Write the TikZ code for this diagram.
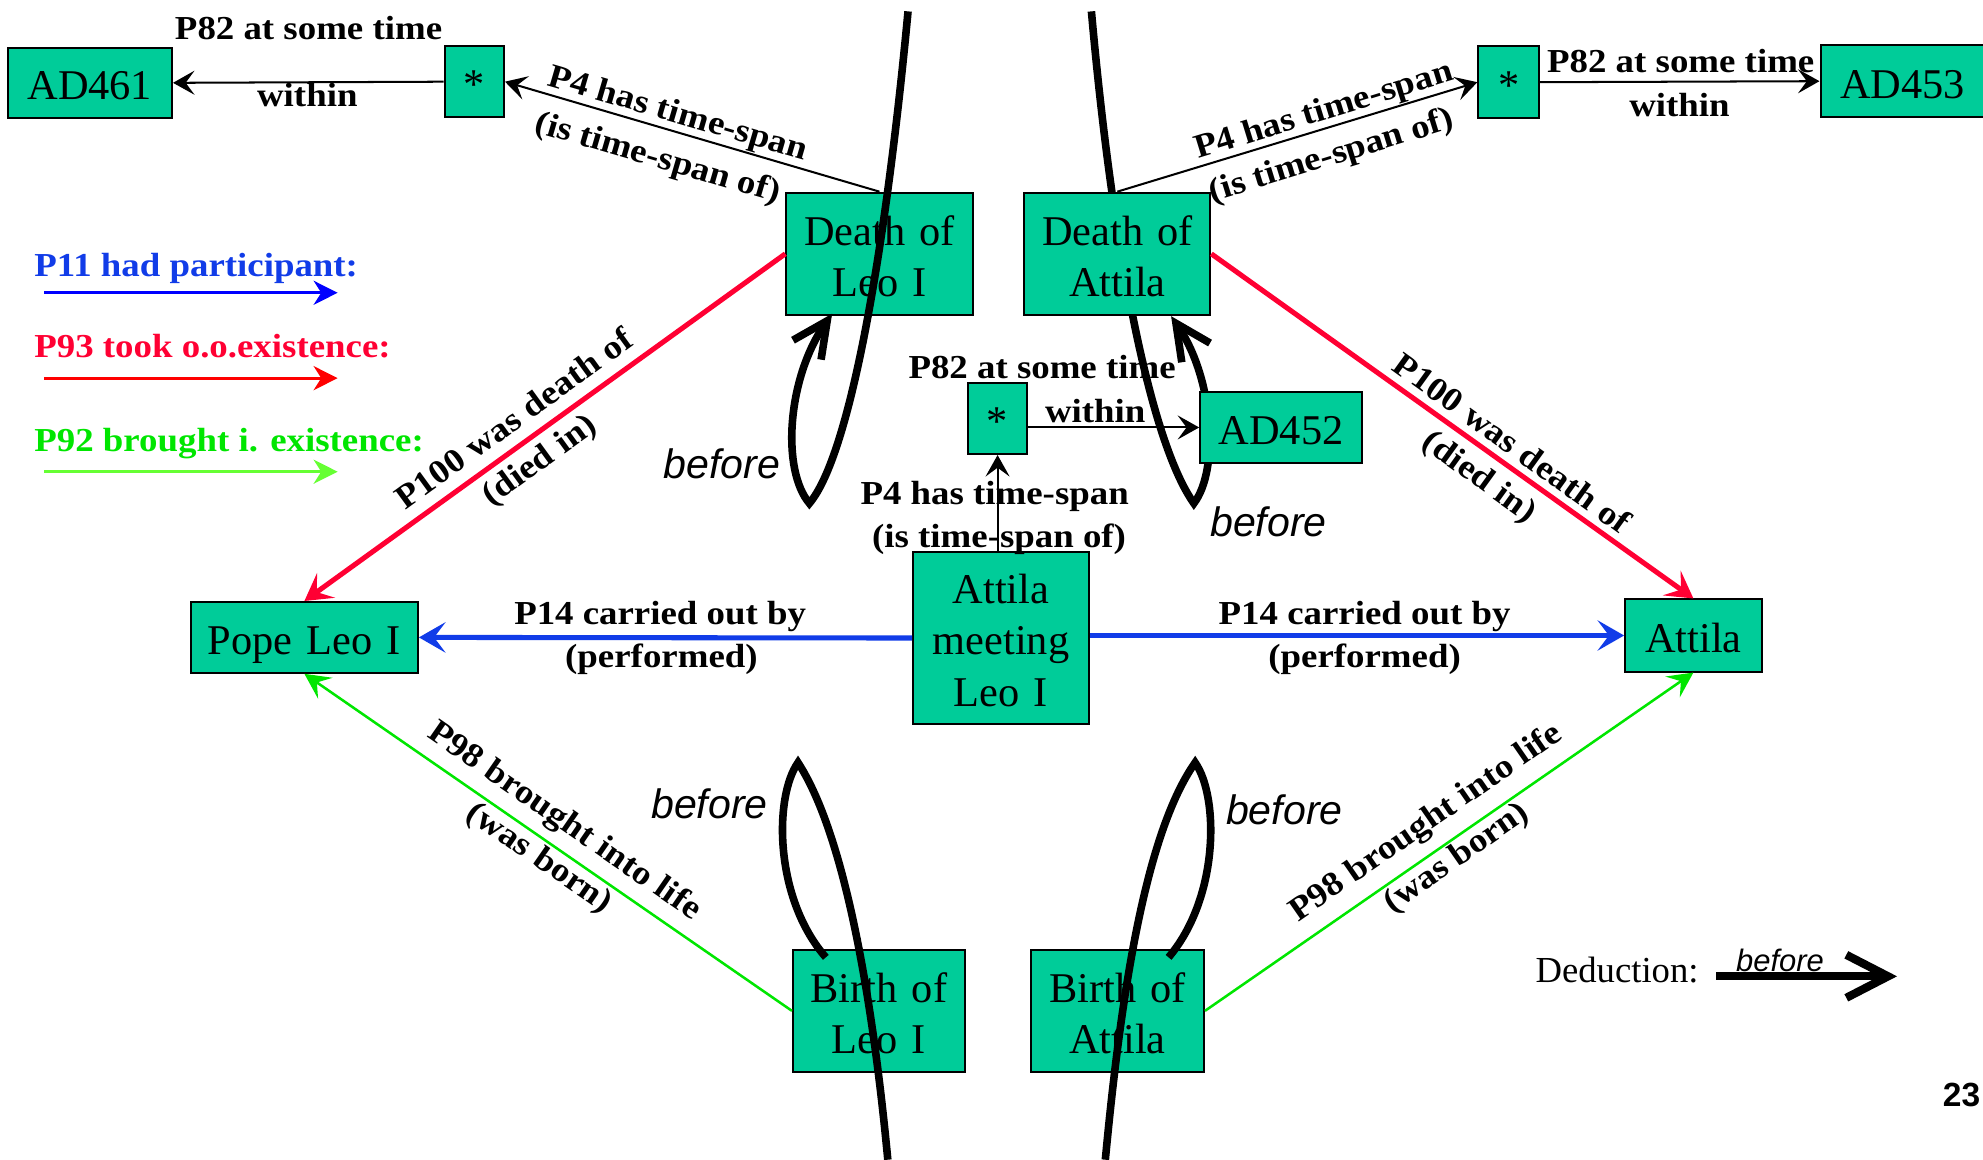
\documentclass[tikz,border=0pt]{standalone}
\usepackage{fontspec}
\setmainfont{Liberation Serif}
\newfontfamily\labelfam[FakeStretch=1.1]{Liberation Serif}
\newfontfamily\arialfam{Liberation Sans}
\usetikzlibrary{arrows.meta}

\definecolor{boxteal}{RGB}{0,204,153}
\definecolor{relblue}{RGB}{17,60,232}
\definecolor{legblue}{RGB}{0,0,255}
\definecolor{relred}{RGB}{255,0,51}
\definecolor{legred}{RGB}{255,0,0}
\definecolor{relgreen}{RGB}{0,230,0}
\definecolor{leggreen}{RGB}{102,255,51}

\begin{document}
\begin{tikzpicture}[x=1pt, y=-1pt,
  box/.style 2 args={draw=black, line width=1.6pt, fill=boxteal, inner sep=0pt,
    minimum width=#1pt, minimum height=#2pt, text width=#1pt, align=center,
    text height=31.8pt, font=\fontsize{33.5}{40.5}\selectfont},
  one/.style={text depth=5pt},
  two/.style={text depth=45.5pt},
  three/.style={text depth=86pt},
  lbl/.style={inner sep=0pt, font=\labelfam\bfseries\fontsize{26.5}{31}\selectfont},
  bef/.style={inner sep=0pt, font=\arialfam\itshape\fontsize{32.5}{38}\selectfont},
  thinrel/.style={draw=black, line width=1.6pt, -{Stealth[length=17pt,width=19pt,inset=7pt]}},
  partrel/.style={draw=relblue, line width=4pt, -{Stealth[length=21pt,width=24pt,inset=9pt]}},
  deathrel/.style={draw=relred, line width=4pt, -{Stealth[length=21pt,width=24pt,inset=9pt]}},
  birthrel/.style={draw=relgreen, line width=2pt, -{Stealth[length=20pt,width=20pt,inset=8pt]}},
  legarrow/.style={line width=2.2pt, -{Stealth[length=19pt,width=19pt,inset=6pt]}},
  loopline/.style={draw=black, line width=6pt},
  looptip/.style={-{Straight Barb[length=28pt,width=27pt]}}
]
\fill[white] (0,0) rectangle (1568,917);
\useasboundingbox (0,0) rectangle (1568,917);

% "before" loop behind the Death of Attila box and AD452
\coordinate (urTop) at (863,9);
\coordinate (urTurn) at (944,398);
\coordinate (urTip) at (926,250);
\draw[loopline, looptip] (urTop) .. controls (880,200) and (910,350) .. (urTurn)
  .. controls (964,372) and (960,300) .. (urTip);

% entity boxes
\node[box={130}{55}, one]    (AD461)    at (71,65.5)     {AD461};
\node[box={47}{56.4}, one]   (starL)    at (375,64.6)    {*};
\node[box={147.3}{96.7}, two](deathLeo) at (695.4,200.7) {Death of\\Leo I};
\node[box={147}{96.7}, two]  (deathAtt) at (883.5,200.7) {Death of\\Attila};
\node[box={48}{57}, one]     (starR)    at (1193,65)     {*};
\node[box={130}{57.2}, one]  (AD453)    at (1504.5,64.2) {AD453};
\node[box={46.5}{56}, one]   (starC)    at (788.8,331)   {*};
\node[box={128}{56}, one]    (AD452)    at (1013,338)    {AD452};
\node[box={139}{136}, three] (meeting)  at (791.5,504.5) {Attila\\meeting\\Leo I};
\node[box={179.5}{56}, one]  (popeLeo)  at (240.7,504)   {Pope Leo I};
\node[box={108}{57}, one]    (attila)   at (1339,502.5)  {Attila};
\node[box={136}{96.6}, two]  (birthLeo) at (695,799.3)   {Birth of\\Leo I};
\node[box={137}{96.6}, two]  (birthAtt) at (883.5,799.3) {Birth of\\Attila};

% relation labels
\node[lbl, anchor=base] (lTLa) at (244,31) {P82 at some time};
\node[lbl, anchor=base] (lTLb) at (243,84) {within};
\node[lbl, anchor=base] (lTRa) at (1329,57) {P82 at some time};
\node[lbl, anchor=base] (lTRb) at (1328,92) {within};
\node[lbl, anchor=base] (lCa) at (824,299) {P82 at some time};
\node[lbl, anchor=base] (lCb) at (866,334) {within};
\node[lbl, anchor=base] (lVa) at (786.5,399) {P4 has time-span};
\node[lbl, anchor=base] (lVb) at (790,433) {(is time-span of)};
\node[lbl, rotate=-16.3] (lP4La) at (536,91) {P4 has time-span};
\node[lbl, rotate=-16.3] (lP4Lb) at (520,126) {(is time-span of)};
\node[lbl, rotate=17.1] (lP4Ra) at (1047,88.3) {P4 has time-span};
\node[lbl, rotate=17.1] (lP4Rb) at (1053,124) {(is time-span of)};
\node[lbl, anchor=base] (lPLa) at (522,494) {P14 carried out by};
\node[lbl, anchor=base] (lPLb) at (523,528) {(performed)};
\node[lbl, anchor=base] (lPRa) at (1079,494) {P14 carried out by};
\node[lbl, anchor=base] (lPRb) at (1079,528) {(performed)};
\node[lbl, rotate=36] (lDLa) at (406,330.6) {P100 was death of};
\node[lbl, rotate=36] (lDLb) at (427.5,365) {(died in)};
\node[lbl, rotate=-35.8] (lDRa) at (1196,350) {P100 was death of};
\node[lbl, rotate=-35.8] (lDRb) at (1169,378) {(died in)};
\node[lbl, rotate=-34.7] (lBLa) at (446,650) {P98 brought into life};
\node[lbl, rotate=-34.7] (lBLb) at (426,679) {(was born)};
\node[lbl, rotate=34.7] (lBRa) at (1128,651) {P98 brought into life};
\node[lbl, rotate=34.7] (lBRb) at (1152,679) {(was born)};

% "before" labels of the loops
\node[bef, anchor=base] (bUL) at (571,378) {before};
\node[bef, anchor=base] (bUR) at (1003,424.5) {before};
\node[bef, anchor=base] (bBL) at (561,647) {before};
\node[bef, anchor=base] (bBR) at (1015.5,652) {before};

% time-span relations
\draw[thinrel] (starL.west) -- (AD461.east);
\draw[thinrel] (starR.east) -- (AD453.west);
\draw[thinrel] (starC.east |- AD452.west) -- (AD452.west);
\draw[thinrel] (deathLeo.north) -- (starL.east);
\draw[thinrel] (deathAtt.north) -- (starR.west);
\draw[thinrel] (starC.south |- meeting.north) -- (starC.south);

% participation, death and birth relations
\draw[partrel] (meeting.west) -- (popeLeo.east);
\draw[partrel] (meeting.east |- attila.west) -- (attila.west);
\draw[deathrel] (deathLeo.west) -- (popeLeo.north);
\draw[deathrel] (deathAtt.east) -- (attila.north);
\draw[birthrel] (birthLeo.west) -- (popeLeo.south);
\draw[birthrel] (birthAtt.east) -- (attila.south);

% "before" loops in front of the boxes
\coordinate (ulTop) at (718,9);
\coordinate (ulTurn) at (640,398);
\coordinate (ulTip) at (658,248);
\draw[loopline, looptip] (ulTop) .. controls (700,200) and (672,360) .. (ulTurn)
  .. controls (618,372) and (622,300) .. (ulTip);
\coordinate (blBot) at (702,917);
\coordinate (blTurn) at (631,603);
\coordinate (blEnd) at (653,757);
\draw[loopline] (blBot) .. controls (690,790) and (668,660) .. (blTurn)
  .. controls (612,630) and (612,710) .. (blEnd);
\coordinate (brBot) at (874,917);
\coordinate (brTurn) at (945,603);
\coordinate (brEnd) at (924,757);
\draw[loopline] (brBot) .. controls (886,790) and (905,660) .. (brTurn)
  .. controls (964,630) and (964,710) .. (brEnd);

% colour legend
\node[lbl, anchor=base west, text=relblue] (legP11) at (27,219) {P11 had participant:};
\node[lbl, anchor=base west, text=relred] (legP93) at (27,283) {P93 took o.o.existence:};
\node[lbl, anchor=base west, text=relgreen] (legP92) at (27,357) {P92 brought i. existence:};
\coordinate (lgA1) at (35,231.5);  \coordinate (lgB1) at (267,231.5);
\coordinate (lgA2) at (35,299);    \coordinate (lgB2) at (267,299);
\coordinate (lgA3) at (35,373);    \coordinate (lgB3) at (267,373);
\draw[legarrow, legblue] (lgA1) -- (lgB1);
\draw[legarrow, legred] (lgA2) -- (lgB2);
\draw[legarrow, leggreen] (lgA3) -- (lgB3);

% deduction legend
\node[anchor=base west, inner sep=0pt, font=\fontsize{29}{34}\selectfont] (dedText) at (1214,777) {Deduction:};
\coordinate (dedA) at (1357,772);
\coordinate (dedB) at (1500,772);
\draw[line width=6.5pt, -{Straight Barb[length=33pt,width=34pt]}] (dedA) -- (dedB);
\node[anchor=base, inner sep=0pt, font=\arialfam\itshape\fontsize{24.5}{29}\selectfont] (dedBefore) at (1407.5,768.5) {before};

% slide number
\node[anchor=base, inner sep=0pt, font=\arialfam\bfseries\fontsize{26.5}{31}\selectfont] (pageNo) at (1551,875) {23};
\end{tikzpicture}
\end{document}
